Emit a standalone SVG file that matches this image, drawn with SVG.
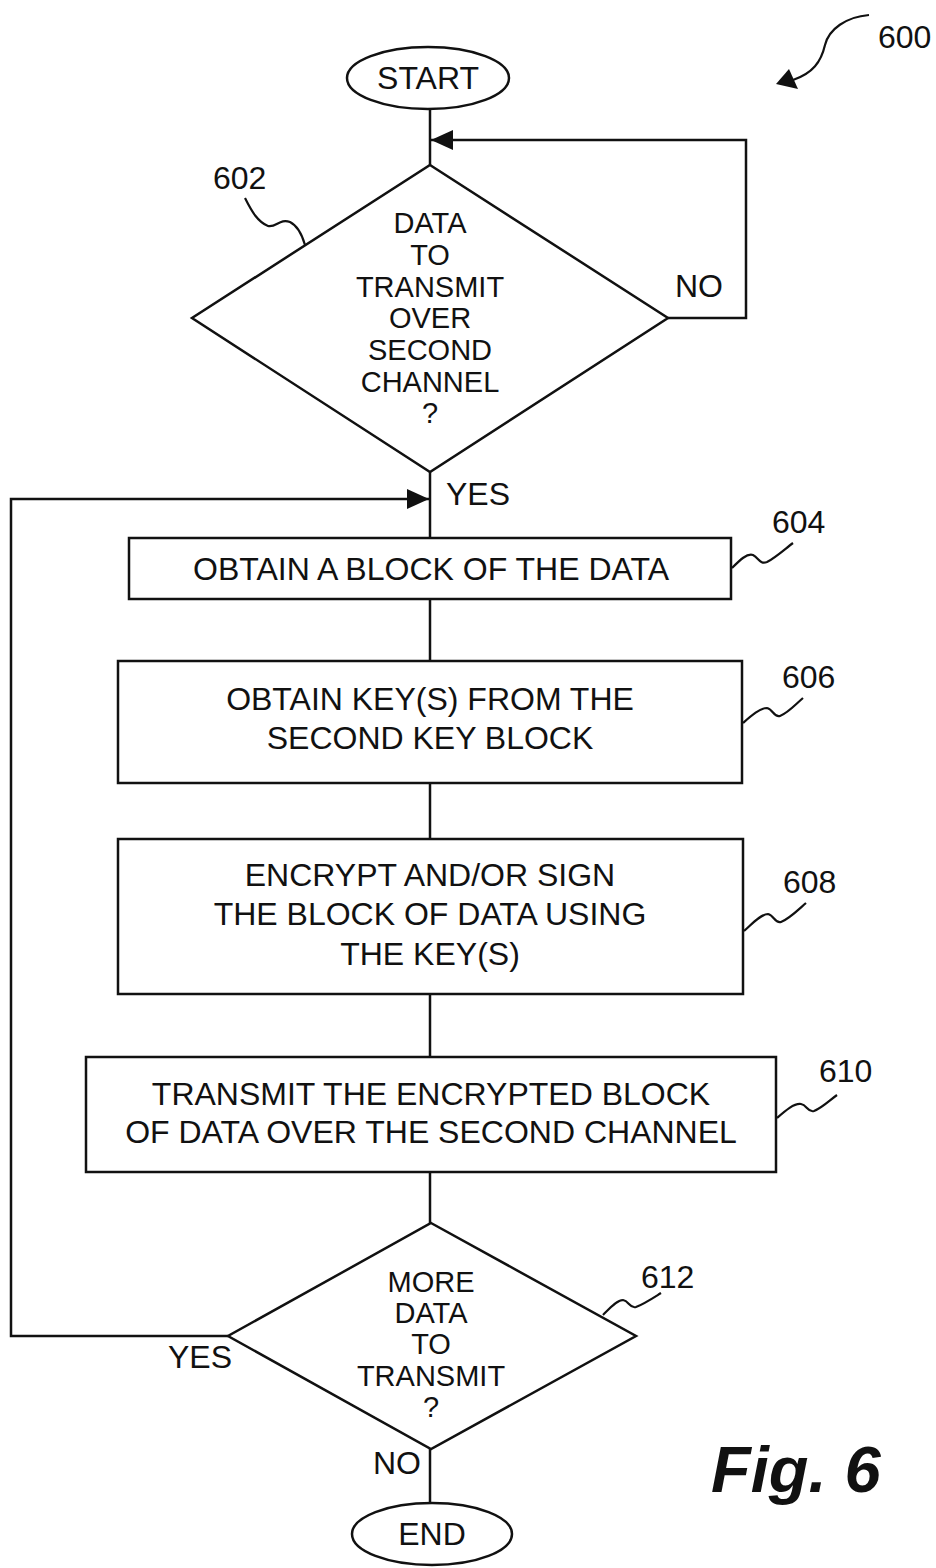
<svg xmlns="http://www.w3.org/2000/svg" width="936" height="1568" viewBox="0 0 936 1568">
<style>
.s{fill:none;stroke:#111;stroke-width:2.5;stroke-linejoin:miter}
.t{font-family:"Liberation Sans",Arial,Helvetica,sans-serif;font-size:32px;fill:#111;text-anchor:middle}
.d{font-family:"Liberation Sans",Arial,Helvetica,sans-serif;font-size:29px;fill:#111;text-anchor:middle}
.l{font-family:"Liberation Sans",Arial,Helvetica,sans-serif;font-size:32px;fill:#111}
.w{fill:none;stroke:#111;stroke-width:2.2}
</style>
<defs>
<marker id="ah" markerUnits="userSpaceOnUse" markerWidth="24" markerHeight="22" refX="22" refY="10" orient="auto">
<path d="M0,0 L22,10 L0,20 Z" fill="#111"/>
</marker>
</defs>
<rect width="936" height="1568" fill="#fff"/>

<g id="connectors">
<line class="s" x1="430" y1="109" x2="430" y2="165"/>
<path class="s" d="M668,318 L746,318 L746,140 L431,140" marker-end="url(#ah)"/>
<line class="s" x1="430" y1="472" x2="430" y2="538"/>
<path class="s" d="M228,1336 L11,1336 L11,499 L429,499" marker-end="url(#ah)"/>
<line class="s" x1="430" y1="599" x2="430" y2="661"/>
<line class="s" x1="430" y1="783" x2="430" y2="839"/>
<line class="s" x1="430" y1="994" x2="430" y2="1057"/>
<line class="s" x1="430" y1="1172" x2="430" y2="1223"/>
<line class="s" x1="430" y1="1449" x2="430" y2="1503"/>
<text class="l" x="675" y="297">NO</text>
<text class="l" x="446" y="505">YES</text>
<text class="l" x="168" y="1368">YES</text>
<text class="l" x="373" y="1474">NO</text>
</g>

<g id="ref600">
<path class="w" d="M869,15 C846,17 829,29 825,45 C821,62 813,73 793,80"/>
<path d="M776,84 L789,69 L798,89 Z" fill="#111"/>
<text class="l" x="878" y="48">600</text>
</g>

<g id="start">
<ellipse class="s" cx="428" cy="78" rx="81" ry="31"/>
<text class="t" x="428" y="89">START</text>
</g>

<g id="n602">
<polygon class="s" points="430,165 668,318 430,472 192,318"/>
<text class="d" x="430" y="233">DATA</text>
<text class="d" x="430" y="265">TO</text>
<text class="d" x="430" y="297">TRANSMIT</text>
<text class="d" x="430" y="328">OVER</text>
<text class="d" x="430" y="360">SECOND</text>
<text class="d" x="430" y="392">CHANNEL</text>
<text class="d" x="430" y="423">?</text>
<path class="w" d="M245,198 C252,212 258,222 268,226 C276,228 280,218 290,222 C298,226 303,238 305,245"/>
<text class="l" x="213" y="189">602</text>
</g>

<g id="n604">
<rect class="s" x="129" y="538" width="602" height="61"/>
<text class="t" x="431" y="580">OBTAIN A BLOCK OF THE DATA</text>
<path class="w" d="M732,568 C740,560 747,553 753,555 C759,558 760,565 767,562 C775,558 785,549 793,543"/>
<text class="l" x="772" y="533">604</text>
</g>

<g id="n606">
<rect class="s" x="118" y="661" width="624" height="122"/>
<text class="t" x="430" y="710">OBTAIN KEY(S) FROM THE</text>
<text class="t" x="430" y="749">SECOND KEY BLOCK</text>
<path class="w" d="M743,723 C751,716 760,708 767,708 C773,709 774,718 780,716 C788,713 796,704 803,698"/>
<text class="l" x="782" y="688">606</text>
</g>

<g id="n608">
<rect class="s" x="118" y="839" width="625" height="155"/>
<text class="t" x="430" y="886">ENCRYPT AND/OR SIGN</text>
<text class="t" x="430" y="925">THE BLOCK OF DATA USING</text>
<text class="t" x="430" y="965">THE KEY(S)</text>
<path class="w" d="M744,931 C752,924 761,914 768,914 C774,915 775,924 781,922 C789,919 798,910 806,903"/>
<text class="l" x="783" y="893">608</text>
</g>

<g id="n610">
<rect class="s" x="86" y="1057" width="690" height="115"/>
<text class="t" x="431" y="1105">TRANSMIT THE ENCRYPTED BLOCK</text>
<text class="t" x="431" y="1143">OF DATA OVER THE SECOND CHANNEL</text>
<path class="w" d="M777,1118 C785,1111 794,1103 801,1104 C807,1105 808,1113 814,1111 C822,1108 830,1100 837,1095"/>
<text class="l" x="819" y="1082">610</text>
</g>

<g id="n612">
<polygon class="s" points="431,1223 636,1336 431,1449 228,1336"/>
<text class="d" x="431" y="1292">MORE</text>
<text class="d" x="431" y="1323">DATA</text>
<text class="d" x="431" y="1354">TO</text>
<text class="d" x="431" y="1386">TRANSMIT</text>
<text class="d" x="431" y="1417">?</text>
<path class="w" d="M603,1315 C610,1308 617,1300 623,1300 C629,1301 630,1309 636,1307 C644,1304 653,1298 661,1293"/>
<text class="l" x="641" y="1288">612</text>
</g>

<g id="end">
<ellipse class="s" cx="432" cy="1534" rx="80" ry="31"/>
<text class="t" x="432" y="1545">END</text>
</g>

<text x="711" y="1492" style="font-family:'Liberation Sans',Arial,sans-serif;font-size:65px;font-weight:bold;font-style:italic;fill:#111">Fig. 6</text>
</svg>
